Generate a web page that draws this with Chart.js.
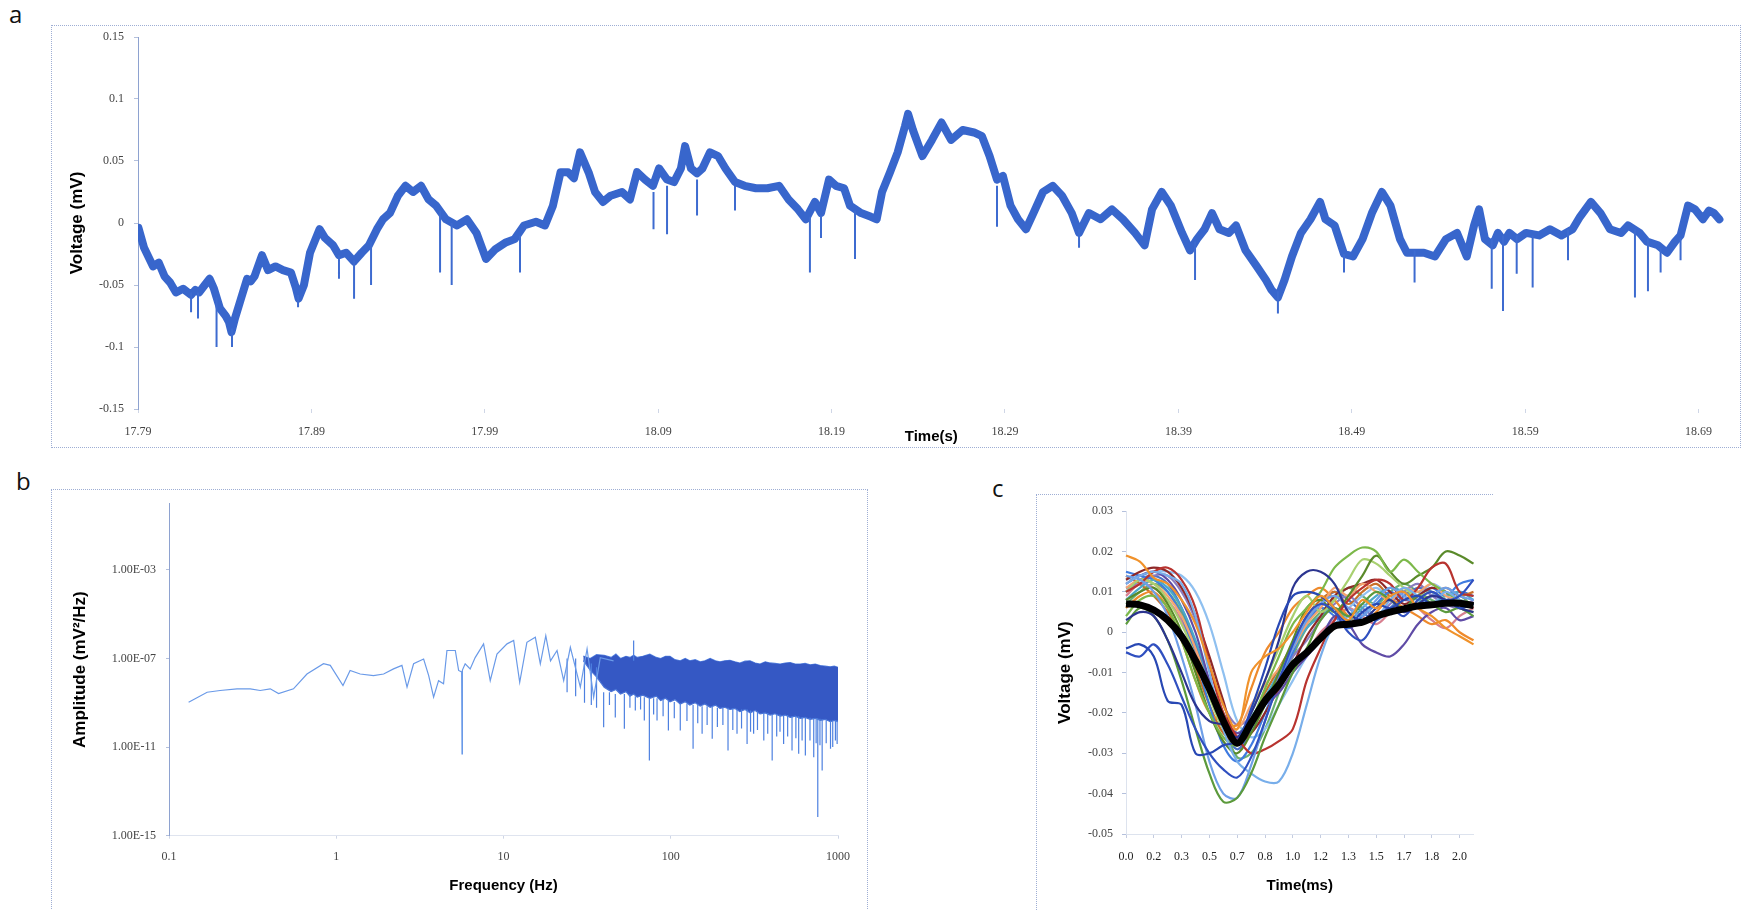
<!DOCTYPE html>
<html>
<head>
<meta charset="utf-8">
<script src="https://cdn.jsdelivr.net/npm/chart.js@4.4.1/dist/chart.umd.min.js"></script>
<style>
  html, body { margin: 0; padding: 0; background: #fff; }
  body { width: 1743px; height: 910px; position: relative; overflow: hidden; }
  .frame { position: absolute; border: 1px dotted #9eaed4; box-sizing: border-box; }
  .tag { position: absolute; font-family: 'Open Sans', 'Liberation Sans', sans-serif; font-size: 24px; line-height: 24px; color: #111; }
  canvas { position: absolute; }
</style>
</head>
<body>
<div class="frame" style="left:51px;top:25px;width:1690px;height:423px"></div>
<div class="frame" style="left:51px;top:489px;width:817px;height:440px"></div>
<div class="frame" style="left:1036px;top:494px;width:457px;height:440px;border-right:none"></div>
<div class="tag" style="left:9px;top:2px">a</div>
<div class="tag" style="left:16px;top:469px">b</div>
<div class="tag" style="left:992px;top:476px">c</div>

<canvas id="traceChart" width="1743" height="460" style="left:0;top:0"></canvas>
<canvas id="spectrumChart" width="880" height="440" style="left:0;top:470px"></canvas>
<canvas id="sweepChart" width="450" height="415" style="left:1040px;top:495px"></canvas>

<script>
// ---------- (a) raw voltage trace ----------
const traceTime = [
  17.7903, 17.7935, 17.7987, 17.8020, 17.8053, 17.8085, 17.8119, 17.8160, 17.8206, 17.8230,
  17.8252, 17.8285, 17.8313, 17.8338, 17.8373, 17.8406, 17.8425, 17.8439, 17.8459, 17.8494,
  17.8529, 17.8550, 17.8572, 17.8615, 17.8650, 17.8693, 17.8736, 17.8782, 17.8810, 17.8826,
  17.8857, 17.8892, 17.8947, 17.8978, 17.9025, 17.9059, 17.9100, 17.9146, 17.9190, 17.9232,
  17.9278, 17.9313, 17.9353, 17.9399, 17.9443, 17.9486, 17.9532, 17.9576, 17.9619, 17.9676,
  17.9740, 17.9797, 17.9852, 17.9907, 17.9962, 18.0017, 18.0072, 18.0126, 18.0195, 18.0247,
  18.0293, 18.0337, 18.0380, 18.0414, 18.0449, 18.0501, 18.0536, 18.0582, 18.0626, 18.0691,
  18.0737, 18.0778, 18.0824, 18.0870, 18.0905, 18.0951, 18.0991, 18.1031, 18.1055, 18.1089,
  18.1124, 18.1155, 18.1199, 18.1245, 18.1288, 18.1343, 18.1398, 18.1464, 18.1530, 18.1597,
  18.1652, 18.1706, 18.1751, 18.1804, 18.1839, 18.1885, 18.1925, 18.1972, 18.2006, 18.2070,
  18.2127, 18.2160, 18.2191, 18.2237, 18.2281, 18.2323, 18.2341, 18.2369, 18.2424, 18.2479,
  18.2534, 18.2589, 18.2656, 18.2721, 18.2767, 18.2811, 18.2854, 18.2888, 18.2932, 18.2975,
  18.3021, 18.3064, 18.3119, 18.3175, 18.3229, 18.3285, 18.3327, 18.3384, 18.3451, 18.3517,
  18.3580, 18.3650, 18.3705, 18.3748, 18.3804, 18.3857, 18.3921, 18.3967, 18.4007, 18.4051,
  18.4094, 18.4137, 18.4191, 18.4232, 18.4287, 18.4352, 18.4405, 18.4437, 18.4474, 18.4512,
  18.4555, 18.4607, 18.4662, 18.4717, 18.4748, 18.4801, 18.4855, 18.4907, 18.4962, 18.5016,
  18.5074, 18.5123, 18.5178, 18.5218, 18.5262, 18.5316, 18.5380, 18.5443, 18.5507, 18.5563,
  18.5605, 18.5634, 18.5668, 18.5713, 18.5743, 18.5778, 18.5809, 18.5853, 18.5905, 18.5980,
  18.6043, 18.6109, 18.6173, 18.6216, 18.6279, 18.6334, 18.6389, 18.6453, 18.6493, 18.6560,
  18.6602, 18.6666, 18.6718, 18.6764, 18.6796, 18.6839, 18.6879, 18.6925, 18.6960, 18.6989,
  18.7020
];
const traceVolt = [
  -0.004, -0.020, -0.035, -0.032, -0.043, -0.048, -0.056, -0.053, -0.058, -0.054,
  -0.056, -0.050, -0.045, -0.053, -0.069, -0.075, -0.080, -0.088, -0.077, -0.061,
  -0.045, -0.047, -0.043, -0.026, -0.038, -0.035, -0.038, -0.040, -0.052, -0.061,
  -0.050, -0.024, -0.005, -0.012, -0.018, -0.026, -0.024, -0.031, -0.024, -0.018,
  -0.005, 0.003, 0.008, 0.022, 0.030, 0.025, 0.030, 0.019, 0.014, 0.003,
  -0.002, 0.003, -0.008, -0.029, -0.021, -0.016, -0.013, -0.002, 0.001, -0.002,
  0.014, 0.041, 0.041, 0.036, 0.057, 0.040, 0.025, 0.017, 0.022, 0.025,
  0.019, 0.041, 0.035, 0.030, 0.044, 0.035, 0.033, 0.044, 0.062, 0.044,
  0.040, 0.044, 0.057, 0.054, 0.044, 0.033, 0.030, 0.028, 0.028, 0.030,
  0.019, 0.011, 0.003, 0.017, 0.008, 0.035, 0.030, 0.028, 0.014, 0.008,
  0.005, 0.003, 0.025, 0.041, 0.057, 0.078, 0.088, 0.075, 0.054, 0.067,
  0.081, 0.067, 0.075, 0.073, 0.070, 0.054, 0.035, 0.038, 0.014, 0.003,
  -0.005, 0.008, 0.025, 0.030, 0.022, 0.008, -0.008, 0.008, 0.003, 0.011,
  0.003, -0.008, -0.018, 0.011, 0.025, 0.014, -0.008, -0.022, -0.013, -0.005,
  0.008, -0.005, -0.008, -0.002, -0.022, -0.035, -0.046, -0.054, -0.060, -0.046,
  -0.027, -0.008, 0.003, 0.017, 0.003, -0.002, -0.025, -0.027, -0.013, 0.008,
  0.025, 0.014, -0.013, -0.024, -0.024, -0.024, -0.027, -0.013, -0.008, -0.027,
  -0.002, 0.011, -0.013, -0.018, -0.008, -0.015, -0.008, -0.013, -0.008, -0.010,
  -0.005, -0.010, -0.005, 0.005, 0.017, 0.008, -0.005, -0.008, -0.002, -0.008,
  -0.015, -0.018, -0.024, -0.015, -0.010, 0.014, 0.011, 0.003, 0.010, 0.008,
  0.003
];
// short downward transients riding on the trace: time, level before, tip
const transientTime = [17.8206, 17.8246, 17.8353, 17.8442, 17.8823, 17.9059, 17.9146, 17.9244, 17.9642, 17.9709,
  18.0103, 18.0873, 18.0951, 18.1124, 18.1343, 18.1775, 18.1839, 18.2035, 18.2854, 18.3327,
  18.3996, 18.4474, 18.4855, 18.5262, 18.5707, 18.5772, 18.5851, 18.5943, 18.6147, 18.6533,
  18.6608, 18.6681, 18.6796];
const transientBase = [-0.056, -0.056, -0.060, -0.085, -0.058, -0.026, -0.030, -0.015, 0.010, 0.000,
  -0.010, 0.025, 0.030, 0.035, 0.030, 0.005, 0.006, 0.010, 0.030, -0.005,
  -0.015, -0.055, -0.025, -0.022, -0.012, -0.010, -0.010, -0.010, -0.005, -0.005,
  -0.012, -0.020, -0.012];
const transientTip = [-0.072, -0.077, -0.100, -0.100, -0.068, -0.045, -0.061, -0.050, -0.040, -0.050,
  -0.040, -0.005, -0.009, 0.006, 0.010, -0.040, -0.012, -0.029, -0.003, -0.020,
  -0.046, -0.073, -0.040, -0.048, -0.053, -0.071, -0.041, -0.052, -0.030, -0.060,
  -0.055, -0.040, -0.030];
const timeTicks = [17.79, 17.89, 17.99, 18.09, 18.19, 18.29, 18.39, 18.49, 18.59, 18.69];
const timeTickLabels = ['17.79', '17.89', '17.99', '18.09', '18.19', '18.29', '18.39', '18.49', '18.59', '18.69'];
const voltTicks = [-0.15, -0.1, -0.05, 0, 0.05, 0.1, 0.15];
const voltTickLabels = ['-0.15', '-0.1', '-0.05', '0', '0.05', '0.1', '0.15'];

// ---------- (b) power spectrum ----------
const specFreq = [0.131, 0.169, 0.202, 0.255, 0.306, 0.351, 0.403, 0.452, 0.555, 0.668,
  0.839, 0.921, 1.097, 1.21, 1.39, 1.67, 1.92, 2.2, 2.47, 2.65,
  2.9, 3.33, 3.57, 3.82, 4.09, 4.38, 4.59, 5.15, 5.39, 5.62,
  5.65, 5.68, 5.9, 6.32, 6.77, 7.6, 8.33, 9.14, 10.5, 11.5,
  12.5, 13.8, 15.5, 16.6, 17.9, 19.1, 20.9, 22.9, 25.1, 28.8,
  31.6, 34.6, 37.9, 45.5];
const specAmp = [1.07e-9, 3.0e-9, 3.6e-9, 4.3e-9, 4.3e-9, 3.6e-9, 4.3e-9, 2.6e-9, 4.3e-9, 2.0e-8,
  5.8e-8, 4.9e-8, 6.0e-9, 2.9e-8, 2.0e-8, 1.7e-8, 2.0e-8, 3.4e-8, 4.9e-8, 5.1e-9,
  5.8e-8, 9.5e-8, 1.7e-8, 1.8e-9, 1.0e-8, 7.2e-9, 2.3e-7, 2.3e-7, 2.9e-8, 2.5e-8,
  5.0e-12, 3.0e-8, 5.8e-8, 3.4e-8, 1.1e-7, 4.6e-7, 1.0e-8, 1.6e-7, 4.6e-7, 6.5e-7,
  8.5e-9, 5.4e-7, 9.1e-7, 5.8e-8, 1.07e-6, 7.9e-8, 2.3e-7, 1.0e-8, 3.2e-7, 5.1e-9,
  2.7e-7, 1.8e-9, 1.1e-7, 7.9e-8];
// dense high-frequency part: upper and lower edge of the band
const bandFreq = [30, 33, 36, 40, 44, 47, 50, 54, 57, 60, 63, 68, 75, 82, 87, 93, 99, 106, 114, 122, 130, 140, 150,
  160, 172, 185, 197, 210, 226, 242, 259, 278, 298, 320, 342, 367, 393, 420, 451, 483, 518, 555, 594,
  636, 682, 731, 783, 839, 898, 950, 1000];
const bandTop = [1.3e-7, 1.0e-7, 1.5e-7,
  1.41e-7, 1.12e-7, 1.58e-7, 1.0e-7, 1.26e-7, 1.12e-7, 1.41e-7, 1.12e-7, 1.26e-7, 1.58e-7,
  1.12e-7, 1.0e-7, 1.26e-7, 1.26e-7, 8.9e-8, 7.9e-8, 1.0e-7, 7.9e-8, 8.9e-8, 7.1e-8,
  7.9e-8, 1.0e-7, 7.9e-8, 7.1e-8, 7.9e-8, 8.3e-8, 7.1e-8, 6.3e-8, 7.6e-8, 7.9e-8,
  6.3e-8, 5.6e-8, 7.1e-8, 6.3e-8, 6.0e-8, 5.6e-8, 6.3e-8, 6.6e-8, 5.6e-8, 5.6e-8,
  6.0e-8, 5.2e-8, 5.6e-8, 4.8e-8, 4.5e-8, 4.2e-8, 4.5e-8, 4.0e-8];
const bandBottom = [8.0e-8, 3.0e-8, 1.5e-8,
  5.0e-9, 3.2e-9, 4.0e-9, 2.5e-9, 3.2e-9, 2.0e-9, 2.5e-9, 1.8e-9, 2.2e-9, 1.6e-9,
  2.0e-9, 1.26e-9, 1.6e-9, 1.12e-9, 1.4e-9, 8.9e-10, 1.12e-9, 7.9e-10, 1.0e-9, 7.1e-10,
  8.9e-10, 6.3e-10, 7.9e-10, 5.6e-10, 6.3e-10, 5.0e-10, 5.6e-10, 4.0e-10, 5.0e-10, 3.5e-10,
  4.5e-10, 3.2e-10, 3.5e-10, 2.8e-10, 3.2e-10, 2.5e-10, 2.8e-10, 2.2e-10, 2.5e-10, 2.0e-10,
  2.2e-10, 1.8e-10, 2.0e-10, 1.6e-10, 1.8e-10, 1.4e-10, 1.6e-10, 1.4e-10];
// isolated notches reaching below (or above) the band
const notchFreq = [24, 27, 30.5, 33.5, 36,
  39.7, 43, 46.6, 52.8, 57, 60, 61.4, 66, 69.5, 74.5,
  79, 82.8, 90, 96.8, 105, 114, 125, 136, 145, 154,
  165, 177, 190, 205, 220, 235, 249, 265, 286, 300,
  313, 330, 360, 380, 404, 430, 450, 473, 500, 531,
  560, 582, 610, 638, 680, 716, 740, 757, 780, 804,
  850, 902, 930, 965, 988];
const notchBase = [1.0e-7, 1.0e-7, 8.0e-8, 6.0e-8, 4.0e-8,
  3.0e-9, 3.0e-9, 2.5e-9, 2.5e-9, 2.5e-9, 8.0e-8, 2.0e-9, 2.0e-9, 1.8e-9, 1.6e-9,
  1.6e-9, 1.6e-9, 1.4e-9, 1.2e-9, 1.1e-9, 9.0e-10, 9.0e-10, 8.0e-10, 8.0e-10, 7.0e-10,
  7.0e-10, 7.0e-10, 6.0e-10, 6.0e-10, 6.0e-10, 5.5e-10, 5.0e-10, 5.0e-10, 5.0e-10, 4.5e-10,
  4.0e-10, 4.0e-10, 3.5e-10, 3.5e-10, 3.0e-10, 3.0e-10, 3.0e-10, 2.8e-10, 2.8e-10, 2.5e-10,
  2.5e-10, 2.5e-10, 2.3e-10, 2.2e-10, 2.1e-10, 2.0e-10, 2.0e-10, 2.0e-10, 1.9e-10, 1.8e-10,
  1.7e-10, 1.6e-10, 1.6e-10, 1.6e-10, 1.6e-10];
const notchTip = [3.0e-9, 2.0e-9, 1.0e-9, 8.0e-10, 6.0e-10,
  7.9e-11, 8.0e-10, 2.2e-10, 6.8e-11, 6.0e-10, 6.5e-7, 4.5e-10, 5.0e-10, 1.6e-10, 2.5e-12,
  3.0e-10, 1.6e-10, 2.5e-10, 5.6e-11, 2.0e-10, 5.6e-11, 1.5e-10, 8.5e-12, 1.2e-10, 4.0e-11,
  1.0e-10, 2.4e-11, 8.0e-11, 1.0e-10, 7.1e-12, 6.0e-11, 4.0e-11, 7.0e-11, 1.4e-11, 5.0e-11,
  4.0e-11, 6.0e-11, 2.0e-11, 4.0e-11, 2.5e-12, 3.0e-11, 5.0e-11, 1.4e-11, 3.0e-11, 7.1e-12,
  2.5e-11, 5.0e-12, 2.0e-11, 4.2e-12, 2.0e-11, 3.5e-12, 1.5e-11, 6.9e-15, 1.2e-11, 8.9e-13,
  1.5e-11, 8.5e-12, 1.0e-11, 2.0e-11, 1.4e-11];
const freqTicks = [0.1, 1, 10, 100, 1000];
const freqTickLabels = ['0.1', '1', '10', '100', '1000'];
const ampTicks = [1e-15, 1e-11, 1e-7, 1e-3];
const ampTickLabels = ['1.00E-15', '1.00E-11', '1.00E-07', '1.00E-03'];

// ---------- (c) overlaid sweeps and their average ----------
const sweepTimeLabels = ['0.0', '0.1', '0.2', '0.3', '0.3', '0.4', '0.5', '0.6', '0.7', '0.8', '0.8', '0.9', '1.0',
  '1.1', '1.2', '1.3', '1.3', '1.4', '1.5', '1.6', '1.7', '1.8', '1.8', '1.9', '2.0', '2.1'];
const sweep01 = [0.019, 0.0175, 0.0135, 0.012, 0.008, 0.002, -0.008, -0.018, -0.024, -0.010, -0.006, -0.004, 0.000, 0.005, 0.009, 0.006, 0.003, 0.008, 0.006, 0.009, 0.010, 0.006, 0.004, 0.001, -0.001, -0.003];
const sweep02 = [-0.004, -0.003, -0.006, -0.017, -0.018, -0.030, -0.030, -0.028, -0.027, -0.019, -0.009, 0.002, 0.009, 0.010, 0.009, 0.006, 0.002, 0.005, 0.007, 0.006, 0.008, 0.009, 0.007, 0.008, 0.006, 0.007];
const sweep03 = [0.003, 0.005, 0.004, -0.002, -0.010, -0.018, -0.022, -0.023, -0.026, -0.020, -0.012, -0.002, 0.011, 0.015, 0.015, 0.012, 0.005, 0.003, 0.006, 0.008, 0.005, 0.007, 0.009, 0.008, 0.006, 0.005];
const sweep04 = [-0.005, -0.006, -0.003, -0.008, -0.016, -0.024, -0.030, -0.034, -0.036, -0.031, -0.022, -0.012, -0.003, 0.004, 0.007, 0.005, 0.000, -0.002, 0.003, 0.006, 0.004, 0.008, 0.010, 0.008, 0.009, 0.013];
const sweep05 = [0.002, 0.006, 0.004, -0.002, -0.012, -0.024, -0.035, -0.042, -0.041, -0.035, -0.026, -0.018, -0.010, -0.004, 0.003, 0.006, 0.004, 0.007, 0.010, 0.008, 0.006, 0.009, 0.007, 0.005, 0.006, 0.004];
const sweep06 = [0.012, 0.014, 0.015, 0.014, 0.012, 0.004, -0.010, -0.024, -0.032, -0.035, -0.037, -0.037, -0.030, -0.018, -0.006, 0.002, 0.004, 0.007, 0.004, 0.008, 0.011, 0.009, 0.007, 0.010, 0.008, 0.007];
const sweep07 = [0.014, 0.013, 0.010, 0.004, -0.006, -0.018, -0.032, -0.040, -0.041, -0.033, -0.022, -0.012, -0.004, 0.003, 0.007, 0.009, 0.006, 0.004, 0.008, 0.011, 0.009, 0.007, 0.009, 0.011, 0.009, 0.008];
const sweep08 = [0.010, 0.012, 0.015, 0.016, 0.013, 0.006, -0.008, -0.020, -0.026, -0.030, -0.029, -0.027, -0.024, -0.012, -0.004, 0.003, 0.008, 0.011, 0.013, 0.012, 0.008, 0.011, 0.016, 0.017, 0.010, 0.009];
const sweep09 = [0.004, 0.008, 0.009, 0.006, -0.002, -0.012, -0.020, -0.026, -0.028, -0.022, -0.014, -0.006, 0.002, 0.006, 0.010, 0.016, 0.019, 0.021, 0.020, 0.015, 0.018, 0.015, 0.012, 0.010, 0.008, 0.007];
const sweep10 = [0.008, 0.010, 0.011, 0.007, 0.000, -0.010, -0.020, -0.027, -0.030, -0.025, -0.018, -0.010, -0.002, 0.006, 0.008, 0.005, 0.009, 0.014, 0.019, 0.015, 0.012, 0.014, 0.016, 0.020, 0.019, 0.017];
const sweep11 = [0.010, 0.013, 0.012, 0.008, 0.002, -0.006, -0.016, -0.024, -0.027, -0.020, -0.012, -0.004, 0.004, 0.009, 0.005, 0.008, 0.013, 0.018, 0.017, 0.014, 0.011, 0.009, 0.010, 0.008, 0.006, 0.005];
const sweep12 = [0.012, 0.014, 0.015, 0.013, 0.008, 0.000, -0.012, -0.021, -0.025, -0.022, -0.018, -0.015, -0.010, -0.006, -0.002, 0.004, 0.002, -0.003, -0.005, -0.006, -0.003, 0.002, 0.005, 0.006, 0.003, 0.004];
const sweep13 = [0.011, 0.013, 0.012, 0.009, 0.004, -0.004, -0.014, -0.022, -0.024, -0.018, -0.013, -0.009, -0.004, 0.002, 0.006, 0.011, 0.009, 0.012, 0.010, 0.008, 0.011, 0.010, 0.012, 0.009, 0.008, 0.007];
const sweep14 = [0.013, 0.015, 0.016, 0.015, 0.011, 0.004, -0.006, -0.017, -0.027, -0.025, -0.020, -0.014, -0.008, -0.001, 0.004, 0.009, 0.011, 0.012, 0.013, 0.010, 0.007, 0.009, 0.011, 0.010, 0.008, 0.006];
const sweep15 = [0.008, 0.011, 0.013, 0.011, 0.006, -0.002, -0.012, -0.020, -0.025, -0.021, -0.016, -0.010, -0.004, 0.001, 0.004, 0.006, 0.003, 0.006, 0.009, 0.011, 0.010, 0.008, 0.007, 0.009, 0.010, 0.008];
const sweep16 = [0.015, 0.014, 0.013, 0.010, 0.004, -0.006, -0.018, -0.028, -0.032, -0.028, -0.020, -0.012, -0.005, 0.002, 0.006, 0.004, 0.001, 0.004, 0.007, 0.010, 0.008, 0.009, 0.011, 0.009, 0.012, 0.013];
const sweep17 = [0.006, 0.009, 0.010, 0.006, -0.002, -0.012, -0.020, -0.022, -0.023, -0.014, -0.005, 0.000, 0.006, 0.009, 0.011, 0.008, 0.004, 0.002, 0.005, 0.008, 0.006, 0.004, 0.002, 0.003, 0.000, -0.002];
const sweep18 = [0.009, 0.012, 0.011, 0.008, 0.003, -0.005, -0.014, -0.021, -0.026, -0.022, -0.017, -0.013, -0.009, -0.005, 0.000, 0.003, 0.006, 0.004, 0.002, 0.005, 0.008, 0.006, 0.003, 0.001, 0.004, 0.006];
const sweep19 = [0.011, 0.012, 0.014, 0.014, 0.010, 0.003, -0.008, -0.018, -0.023, -0.021, -0.017, -0.011, -0.006, -0.002, 0.003, 0.007, 0.009, 0.006, 0.004, 0.007, 0.010, 0.012, 0.009, 0.007, 0.006, 0.008];
const sweep20 = [0.013, 0.014, 0.015, 0.015, 0.014, 0.010, 0.002, -0.010, -0.022, -0.026, -0.024, -0.018, -0.012, -0.006, -0.001, 0.004, 0.006, 0.009, 0.011, 0.008, 0.006, 0.009, 0.012, 0.010, 0.007, 0.006];
const sweep21 = [0.014, 0.012, 0.009, 0.005, -0.001, -0.009, -0.018, -0.025, -0.027, -0.022, -0.015, -0.009, -0.003, 0.004, 0.008, 0.010, 0.007, 0.010, 0.012, 0.009, 0.010, 0.008, 0.009, 0.011, 0.009, 0.010];
const sweep22 = [0.010, 0.013, 0.014, 0.012, 0.006, -0.003, -0.014, -0.023, -0.029, -0.024, -0.017, -0.010, -0.003, 0.003, 0.007, 0.010, 0.008, 0.005, 0.003, 0.006, 0.009, 0.011, 0.010, 0.008, 0.010, 0.009];
const sweep23 = [0.007, 0.010, 0.012, 0.010, 0.005, -0.003, -0.013, -0.022, -0.031, -0.030, -0.024, -0.015, -0.006, 0.001, 0.005, 0.008, 0.011, 0.009, 0.007, 0.010, 0.012, 0.010, 0.008, 0.007, 0.009, 0.006];
const sweepMean = [0.007, 0.0068, 0.0055, 0.003, -0.001, -0.007, -0.014, -0.022, -0.0275, -0.0225, -0.017, -0.013, -0.008, -0.005, -0.0015, 0.0015, 0.002, 0.0025, 0.004, 0.005, 0.0058, 0.0065, 0.0068, 0.0072, 0.0072, 0.0066];
const sweepVoltTicks = [-0.05, -0.04, -0.03, -0.02, -0.01, 0, 0.01, 0.02, 0.03];
const sweepVoltLabels = ['-0.05', '-0.04', '-0.03', '-0.02', '-0.01', '0', '0.01', '0.02', '0.03'];

const sweeps = [sweep01, sweep02, sweep03, sweep04, sweep05, sweep06, sweep07, sweep08, sweep09, sweep10, sweep11, sweep12,
  sweep13, sweep14, sweep15, sweep16, sweep17, sweep18, sweep19, sweep20, sweep21, sweep22, sweep23];
const sweepColors = ['#f0922b', '#2848b4', '#2c3590', '#3050c0', '#5c9a3c', '#78aeea', '#6f9fe8', '#b8332f', '#7cb84a',
  '#5a8a2a', '#a8d070', '#5f4ba6', '#f4a470', '#8e2828', '#4aa8c8', '#3f7be0', '#ee8a2c', '#d88090', '#8a7cc0',
  '#8fc0f0', '#c8702a', '#4a72c8', '#6ab070'];

// ---------- shared styling ----------
const tickFont = { family: "'Liberation Serif', 'DejaVu Serif', serif", size: 12 };
const xTitleFont = { family: "'Liberation Sans', Arial, sans-serif", size: 15, weight: 'bold' };
const yTitleFont = { family: "'Liberation Sans', Arial, sans-serif", size: 17, weight: 'bold' };
const axisBlue = '#8ea2d0';
const tickMarkColor = '#b4c0dc';
const baseOptions = {
  responsive: false,
  animation: false,
  devicePixelRatio: 1,
  events: [],
  plugins: { legend: { display: false }, tooltip: { enabled: false } }
};
function fixedTicks(values) {
  return scale => { scale.ticks = values.map(v => ({ value: v })); };
}
function segmentPoints(xs, from, to) {
  const pts = [];
  xs.forEach((x, i) => { pts.push({ x: x, y: from[i] }, { x: x, y: to[i] }, { x: x, y: null }); });
  return pts;
}

// (a)
new Chart(document.getElementById('traceChart'), {
  type: 'line',
  data: {
    datasets: [
      { data: traceTime.map((t, i) => ({ x: t, y: traceVolt[i] })), borderColor: '#3866cc', borderWidth: 8,
        pointRadius: 0, tension: 0, borderJoinStyle: 'round', borderCapStyle: 'round', order: 2 },
      { data: segmentPoints(transientTime, transientBase, transientTip), borderColor: '#3d6bd0', borderWidth: 2,
        pointRadius: 0, spanGaps: false, order: 1 }
    ]
  },
  options: Object.assign({}, baseOptions, {
    layout: { padding: { left: 0, top: 37, right: 18.4, bottom: 11 } },
    scales: {
      x: {
        type: 'linear', min: 17.79, max: 18.705,
        afterFit: s => { s.height = 40; },
        afterBuildTicks: fixedTicks(timeTicks),
        ticks: { callback: (v, i) => timeTickLabels[i], font: tickFont, color: '#444', padding: 11.8, maxRotation: 0, autoSkip: false },
        grid: { drawOnChartArea: false, tickLength: 4, tickColor: '#cfd6e6' },
        border: { display: false },
        title: { display: true, text: 'Time(s)', font: xTitleFont, color: '#000', padding: { top: 0, bottom: 3 } }
      },
      y: {
        type: 'linear', min: -0.15, max: 0.15,
        afterFit: s => { s.width = 138; },
        afterBuildTicks: fixedTicks(voltTicks),
        ticks: { callback: (v, i) => voltTickLabels[i], font: tickFont, color: '#444', padding: 10 },
        grid: { drawOnChartArea: false, tickLength: 4, tickColor: tickMarkColor },
        border: { display: true, color: axisBlue, dash: [2, 2], width: 1 },
        title: { display: true, text: 'Voltage (mV)', font: yTitleFont, color: '#000', padding: { top: 66.8, bottom: 0 } }
      }
    }
  })
});

// (b)
new Chart(document.getElementById('spectrumChart'), {
  type: 'line',
  data: {
    datasets: [
      { data: bandFreq.map((f, i) => ({ x: f, y: bandTop[i] })), borderColor: '#5a88e2', borderWidth: 1.2,
        pointRadius: 0, tension: 0, fill: false, order: 4 },
      { data: bandFreq.map((f, i) => ({ x: f, y: bandBottom[i] })), borderColor: '#4a74d6', borderWidth: 1.2,
        backgroundColor: '#3558c4', pointRadius: 0, tension: 0, fill: '-1', order: 3 },
      { data: segmentPoints(notchFreq, notchBase, notchTip), borderColor: '#4d80e0', borderWidth: 1.2,
        pointRadius: 0, spanGaps: false, order: 2 },
      { data: specFreq.map((f, i) => ({ x: f, y: specAmp[i] })), borderColor: '#6a9ae8', borderWidth: 1.2,
        pointRadius: 0, tension: 0, order: 1 }
    ]
  },
  options: Object.assign({}, baseOptions, {
    layout: { padding: { left: 0, top: 33.5, right: 42, bottom: 14.3 } },
    scales: {
      x: {
        type: 'logarithmic', min: 0.1, max: 1000,
        afterFit: s => { s.height = 60; },
        afterBuildTicks: fixedTicks(freqTicks),
        ticks: { callback: (v, i) => freqTickLabels[i], font: tickFont, color: '#444', padding: 11, maxRotation: 0, autoSkip: false },
        grid: { drawOnChartArea: false, tickLength: 3, tickColor: '#cfd6e6' },
        border: { display: true, color: '#dfe4ef', dash: [2, 3], width: 1 },
        title: { display: true, text: 'Frequency (Hz)', font: xTitleFont, color: '#000', padding: { top: 0, bottom: 0.7 } }
      },
      y: {
        type: 'logarithmic', min: 1e-15, max: 1,
        afterFit: s => { s.width = 169; },
        afterBuildTicks: fixedTicks(ampTicks),
        ticks: { callback: (v, i) => ampTickLabels[i], font: tickFont, color: '#444', padding: 10, autoSkip: false },
        grid: { drawOnChartArea: false, tickLength: 3, tickColor: tickMarkColor },
        border: { display: true, color: axisBlue, dash: [2, 2], width: 1 },
        title: { display: true, text: 'Amplitude (mV²/Hz)', font: yTitleFont, color: '#000', padding: { top: 69.8, bottom: 0 } }
      }
    }
  })
});

// (c)
const sweepSets = sweeps.map((s, k) => ({
  data: s, borderColor: sweepColors[k], borderWidth: 2.2, pointRadius: 0, tension: 0.35, order: 2
}));
sweepSets.push({ data: sweepMean, borderColor: '#000', borderWidth: 7, pointRadius: 0, tension: 0.3, order: 1 });

new Chart(document.getElementById('sweepChart'), {
  type: 'line',
  data: { labels: sweepTimeLabels, datasets: sweepSets },
  options: Object.assign({}, baseOptions, {
    layout: { padding: { left: 0, top: 13, right: 16.5, bottom: 6 } },
    scales: {
      x: {
        type: 'category', offset: false,
        afterFit: s => { s.height = 70; },
        ticks: { callback: (v, i) => (i % 2 === 0 ? sweepTimeLabels[i] : ''), font: tickFont, color: '#222',
          padding: 11.8, maxRotation: 0, autoSkip: false },
        grid: { drawOnChartArea: false, tickLength: 4, tickColor: ctx => (ctx.index % 2 === 0 ? '#c4cce0' : 'rgba(0,0,0,0)') },
        border: { display: true, color: '#dde3ee', dash: [3, 4], width: 1 },
        title: { display: true, text: 'Time(ms)', font: xTitleFont, color: '#000', padding: { top: 0, bottom: 9 } }
      },
      y: {
        type: 'linear', min: -0.05, max: 0.03,
        afterFit: s => { s.width = 86; },
        afterBuildTicks: fixedTicks(sweepVoltTicks),
        ticks: { callback: (v, i) => sweepVoltLabels[i], font: tickFont, color: '#444', padding: 9 },
        grid: { drawOnChartArea: false, tickLength: 4, tickColor: tickMarkColor },
        border: { display: true, color: '#dde3ee', dash: [2, 3], width: 1 },
        title: { display: true, text: 'Voltage (mV)', font: yTitleFont, color: '#000', padding: { top: 14.8, bottom: 0 } }
      }
    }
  })
});
</script>
</body>
</html>
